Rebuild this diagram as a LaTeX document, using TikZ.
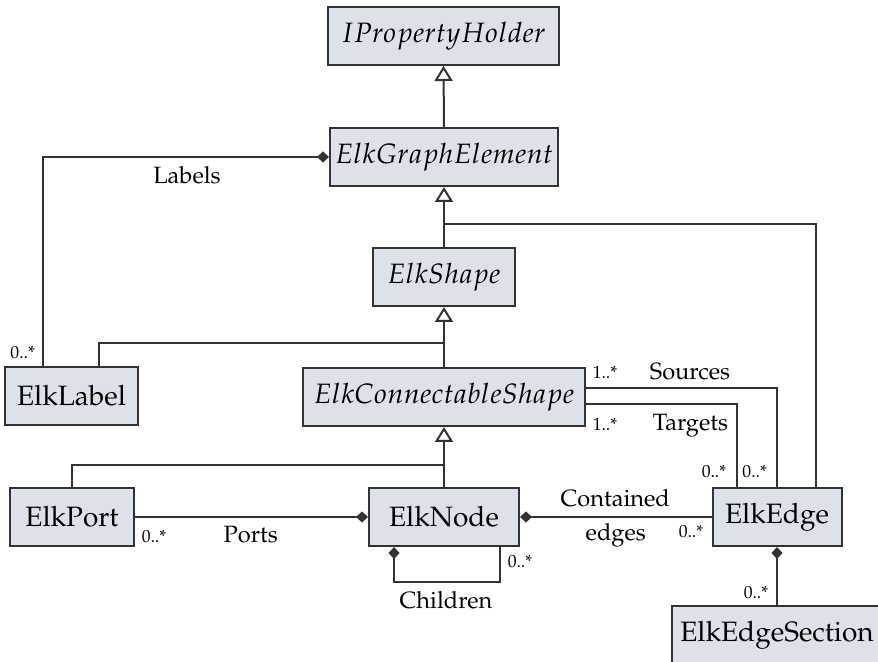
\documentclass[tikz,border=0pt]{standalone}
\usepackage[T1]{fontenc}
\usepackage{mathpazo}
\usetikzlibrary{arrows.meta,calc}

\definecolor{boxfill}{RGB}{221,226,234}
\definecolor{linegray}{RGB}{51,51,51}

\tikzset{
  classbox/.style={draw=linegray, fill=boxfill, line width=1pt, minimum height=29pt, inner sep=0pt, font=\fontsize{14}{16}\selectfont},
  link/.style={draw=linegray, line width=1pt},
  gen/.style={link, -{Triangle[open, length=7.5pt, width=9pt]}},
  comp/.style={link, -{Diamond[length=6pt, width=5.5pt]}},
  role/.style={anchor=base, inner sep=0pt, font=\fontsize{11.8}{14}\selectfont},
  mult/.style={anchor=base, inner sep=0pt, font=\fontsize{8.8}{10}\selectfont}
}

\begin{document}
\begin{tikzpicture}[x=0.5pt,y=0.5pt,yscale=-1,xscale=1]
\useasboundingbox (0,0) rectangle (878,662);
\clip (0,0) rectangle (878,662);

% Classes
\node [classbox, minimum width=115.5pt] (iph) at (443.5,36) {$IPropertyHolder$};
\node [classbox, minimum width=114pt] (ege) at (444,157) {$ElkGraphElement$};
\node [classbox, minimum width=71pt] (shape) at (444,277) {$ElkShape$};
\node [classbox, minimum width=66.5pt] (label) at (71.5,396) {ElkLabel};
\node [classbox, minimum width=141pt] (cshape) at (444,397) {$ElkConnectableShape$};
\node [classbox, minimum width=62pt] (port) at (72,517) {ElkPort};
\node [classbox, minimum width=75pt] (node) at (444,517) {ElkNode};
\node [classbox, minimum width=64.5pt] (edge) at (777,517) {ElkEdge};
\node [classbox, minimum width=105pt] (section) at (777,635) {ElkEdgeSection};

% Junctions of the inheritance trees
\coordinate (j1) at (444,224);
\coordinate (j2) at (444,343);
\coordinate (j3) at (444,465);

% Inheritance
\draw [gen] (ege.north) -- (iph.south);
\draw [gen] (shape.north) -- (ege.south);
\draw [link] ($(edge.north)+(39,0)$) |- (j1);
\draw [gen] (cshape.north) -- (shape.south);
\draw [link] ($(label.north west)+(95,0)$) |- (j2);
\draw [gen] (node.north) -- (cshape.south);
\draw [link] (port.north) |- (j3);

% Associations
\draw [comp] ($(label.north west)+(39,0)$) |- (ege.west);
\draw [comp] (port.east) -- (node.west);
\draw [comp] (edge.west) -- (node.east);
\draw [comp] (section.north) -- (edge.south);
\draw [link, {Diamond[length=6pt, width=5.5pt]}-] ($(node.south west)+(26,0)$) -- ++(0,35) -| ($(node.south east)+(-20,0)$);
\draw [link] ($(cshape.east)+(0,-9)$) -| (edge.north);
\draw [link] ($(cshape.east)+(0,7)$) -| ($(edge.north)+(-40,0)$);

% Text Node
\node [role] (tlabels) at (187,184) {Labels};
\node [mult] (mlabels) at (22.7,358.3) {0..*};
\node [mult] (msrc1) at (605,379) {1..*};
\node [role] (tsrc) at (690,379.3) {Sources};
\node [mult] (mtgt1) at (605,430.7) {1..*};
\node [role] (ttgt) at (690.5,430.7) {Targets};
\node [mult] (mtgt0) at (714,477.7) {0..*};
\node [mult] (msrc0) at (754.7,477.7) {0..*};
\node [role] (tcont) at (615.3,506.7) {Contained};
\node [role] (tedges) at (615.8,540) {edges};
\node [mult] (mcont) at (691,537.7) {0..*};
\node [role] (tports) at (250.8,542.7) {Ports};
\node [mult] (mports) at (154,542.7) {0..*};
\node [role] (tchild) at (446,608.3) {Children};
\node [mult] (mchild) at (520,567.3) {0..*};
\node [mult] (msect) at (756,598.3) {0..*};

\end{tikzpicture}
\end{document}
